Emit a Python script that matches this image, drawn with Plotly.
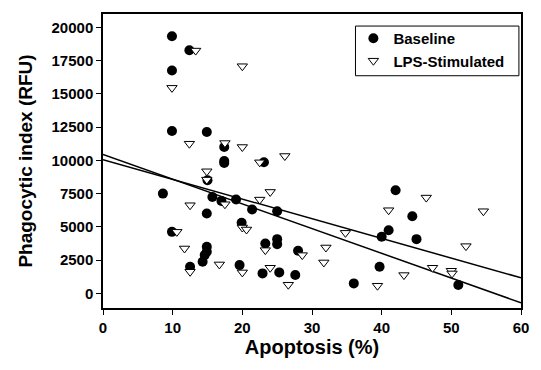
import numpy as np
import plotly.graph_objects as go

# ---- data ----
baseline_x = [9.9, 12.4, 9.9, 9.9, 14.9, 17.4, 17.4, 17.4, 23.1, 8.6,
              15.7, 17.0, 19.1, 21.4, 25.0, 14.9, 19.9, 9.9, 23.3, 25.0,
              25.0, 14.9, 14.9, 14.6, 14.3, 28.0, 12.5, 19.6, 22.9, 25.3,
              27.6, 42.0, 44.4, 41.0, 40.0, 45.0, 39.7, 36.0, 51.0, 15.0]
baseline_y = [19325, 18275, 16750, 12200, 12125, 11000, 9950, 9800, 9850, 7500,
              7250, 6950, 7050, 6300, 6175, 6000, 5300, 4625, 3750, 4075,
              3700, 3500, 3125, 2875, 2375, 3200, 2000, 2125, 1500, 1575,
              1375, 7750, 5800, 4750, 4250, 4075, 2000, 750, 625, 8500]

lps_x = [13.3, 20.0, 9.9, 12.4, 17.5, 20.0, 22.5, 26.1, 14.9, 14.9,
         24.0, 22.5, 17.5, 12.5, 20.0, 20.6, 10.6, 11.7, 23.3, 28.6,
         16.7, 12.5, 20.0, 24.0, 26.6, 46.4, 41.0, 54.6, 34.8, 32.0,
         31.7, 52.1, 47.3, 50.0, 50.1, 43.2, 39.4]
lps_y = [18250, 17075, 15450, 11250, 11300, 11000, 9850, 10325, 9175, 8550,
         7625, 7050, 6700, 6625, 4950, 4800, 4625, 3375, 3250, 2875,
         2175, 1625, 1575, 1925, 650, 7200, 6250, 6175, 4550, 3450,
         2325, 3550, 1925, 1700, 1500, 1375, 575]

# regression lines (intercept, slope)
fit_intercepts = [10450, 10050]
fit_slopes = [-186, -148]
fit_x_range = [0, 60]

x_ticks = [0, 10, 20, 30, 40, 50, 60]
y_ticks = [0, 2500, 5000, 7500, 10000, 12500, 15000, 17500, 20000]
y_tick_labels = [str(v) for v in y_ticks]

FONT = "Liberation Sans, Arial, sans-serif"

fig = go.Figure()

for b, m in zip(fit_intercepts, fit_slopes):
    xs = np.array(fit_x_range, dtype=float)
    fig.add_trace(go.Scatter(x=xs, y=b + m * xs, mode="lines",
                             line=dict(color="black", width=1.5),
                             showlegend=False, hoverinfo="skip"))

fig.add_trace(go.Scatter(x=baseline_x, y=baseline_y, mode="markers",
                         name="Baseline",
                         marker=dict(symbol="circle", size=10, color="black",
                                     line=dict(width=0))))
fig.add_trace(go.Scatter(x=lps_x, y=lps_y, mode="markers",
                         name="LPS-Stimulated",
                         marker=dict(symbol="triangle-down", size=9, color="white",
                                     line=dict(color="black", width=1))))

fig.update_layout(
    width=541, height=370,
    margin=dict(l=103, r=14, t=12, b=62),
    paper_bgcolor="white", plot_bgcolor="white",
    font=dict(family=FONT, color="black", size=15, weight=700),
    legend=dict(x=0.599, y=0.973, xanchor="left", yanchor="top",
                bgcolor="rgba(0,0,0,0)", borderwidth=0,
                font=dict(family=FONT, size=15, weight=700),
                itemwidth=30, tracegroupgap=0),
    shapes=[dict(type="rect", xref="paper", yref="paper",
                 x0=0.604, x1=0.995, y0=0.79, y1=0.959,
                 line=dict(color="black", width=1), fillcolor="white",
                 layer="above")],
)
fig.update_xaxes(range=[0, 60], tickvals=x_ticks, ticks="outside", ticklen=5,
                 tickwidth=1.2, tickcolor="black",
                 showline=True, linecolor="black", linewidth=1.5, mirror=True,
                 showgrid=False, zeroline=False,
                 tickfont=dict(family=FONT, size=15, weight=700),
                 title=dict(text="Apoptosis (%)", standoff=4,
                            font=dict(family=FONT, size=20, weight=700)))
fig.update_yaxes(range=[-1100, 21000], tickvals=y_ticks, ticktext=y_tick_labels,
                 ticks="outside", ticklen=5,
                 tickwidth=1.2, tickcolor="black",
                 showline=True, linecolor="black", linewidth=1.5, mirror=True,
                 showgrid=False, zeroline=False,
                 tickfont=dict(family=FONT, size=15, weight=700),
                 title=dict(text="Phagocytic index (RFU)", standoff=14,
                            font=dict(family=FONT, size=19, weight=700)))

fig.write_html("out.html")
